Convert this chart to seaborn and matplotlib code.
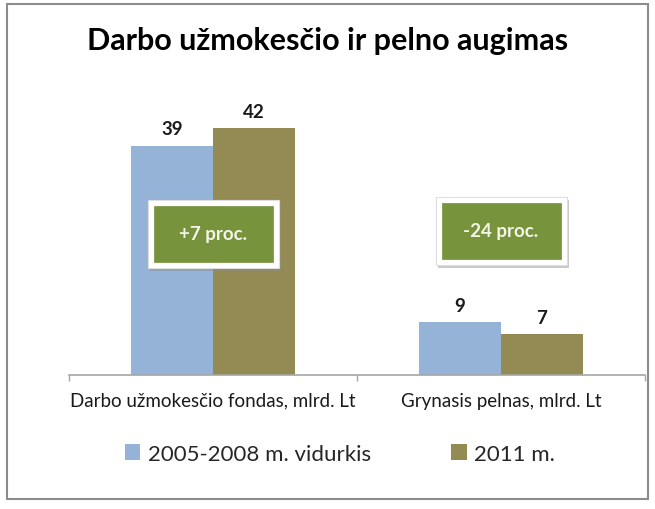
import pandas as pd
import matplotlib.pyplot as plt
import matplotlib.patheffects as pe
from matplotlib.patches import Rectangle, Patch
import seaborn as sns

# duomenys
categories = ['Darbo užmokesčio fondas, mlrd. Lt', 'Grynasis pelnas, mlrd. Lt']
series = ['2005-2008 m. vidurkis', '2011 m.']
avg_2005_2008 = [39, 9]
y_2011 = [42, 7]
change_labels = ['+7 proc.', '-24 proc.']
change_y = [24, 24.5]

colors = ['#95B3D7', '#948A54']
box_green = '#77933C'

df = pd.DataFrame({
    'kategorija': categories * 2,
    'serija': [series[0]] * 2 + [series[1]] * 2,
    'reiksme': avg_2005_2008 + y_2011,
})

sns.set_style('white')
plt.rcParams['font.family'] = ['Lato', 'DejaVu Sans']

fig = plt.figure(figsize=(6.55, 5.10), dpi=100)
ax = fig.add_axes([69 / 655, 134 / 510, 576 / 655, 294 / 510])

sns.barplot(data=df, x='kategorija', y='reiksme', hue='serija',
            hue_order=series, palette=colors, width=0.57,
            saturation=1, linewidth=0, ax=ax, legend=False)

for cont in ax.containers:
    ax.bar_label(cont, padding=6, fontsize=13.5, fontweight='bold',
                 color='#1a1a1a')

ax.set_ylim(0, 50)
ax.set_xlim(-0.5, 1.5)
ax.set_xlabel('')
ax.set_ylabel('')
ax.set_yticks([])
for s in ['top', 'right', 'left']:
    ax.spines[s].set_visible(False)
ax.spines['bottom'].set_color('#a6a6a6')
ax.spines['bottom'].set_linewidth(1.2)
ax.set_xticks([-0.5, 0.5, 1.5], minor=True)
ax.tick_params(axis='x', which='major', length=0, pad=12, labelsize=13.5,
               labelcolor='#1a1a1a')
ax.tick_params(axis='x', which='minor', length=4, width=1, color='#a6a6a6',
               direction='out', bottom=True)

# procentų pokyčio dėžutės
bw, bh = 125 / 288, 62 / 5.88
ow, oh = 131 / 288, 68 / 5.88
for i, (lab, yc) in enumerate(zip(change_labels, change_y)):
    outer = Rectangle((i - ow / 2, yc - oh / 2), ow, oh, facecolor='white',
                      edgecolor='#d9d9d9', linewidth=0.8, zorder=4)
    outer.set_path_effects([pe.SimplePatchShadow(offset=(1.5, -2.5), alpha=0.45,
                                                 shadow_rgbFace='#8a8a8a'),
                            pe.Normal()])
    ax.add_patch(outer)
    r = Rectangle((i - bw / 2, yc - bh / 2), bw, bh, facecolor=box_green,
                  edgecolor='white', linewidth=3.8, zorder=5)
    ax.add_patch(r)
    ax.text(i, yc, lab, ha='center', va='center', fontsize=13.5,
            fontweight='bold', color='#f5f5e8', zorder=6)

fig.text(0.5, 1 - 41 / 510, 'Darbo užmokesčio ir pelno augimas',
         ha='center', va='center', fontsize=22, fontweight='bold',
         color='black')

handles = [Patch(facecolor=c, edgecolor='none') for c in colors]
fig.legend(handles, series, loc='center', ncol=2,
           bbox_to_anchor=(340 / 655, 1 - 455 / 510), frameon=False,
           fontsize=16, handlelength=0.7, handleheight=0.7,
           handletextpad=0.35, columnspacing=3.6)

# rėmelis
fig.patches.append(Rectangle((7 / 655, 10 / 510), 641 / 655, 495 / 510,
                             transform=fig.transFigure, fill=False,
                             edgecolor='#8c8c8c', linewidth=1.5))

fig.savefig('out.png', dpi=100)
